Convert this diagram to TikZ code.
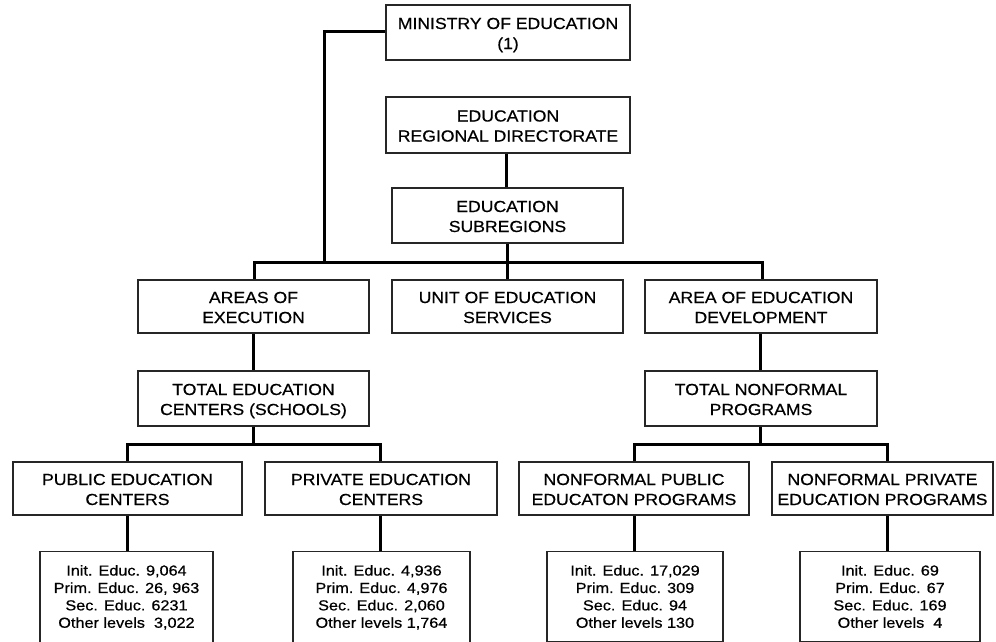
\documentclass[tikz,border=0pt]{standalone}
\usepackage{fontspec}
\setmainfont{Liberation Sans}
\newfontfamily\labfont[FakeStretch=1.1,FakeBold=0.6]{Liberation Sans}
\newfontfamily\datfont[FakeStretch=1.12,FakeBold=0.6]{Liberation Sans}
\begin{document}
\begin{tikzpicture}[x=1pt,y=-1pt,
  box/.style={draw=black!85,line width=1.1pt,rectangle,align=center,inner sep=0pt,
    text height=33pt,text depth=0pt,
    font=\labfont\fontsize{16}{20}\selectfont},
  databox/.style={draw=black!85,line width=1.1pt,rectangle,align=center,anchor=north,
    inner xsep=0pt,inner ysep=13.5pt,font=\datfont\fontsize{14.5}{17.4}\selectfont},
  conn/.style={line width=3pt,black}]
\useasboundingbox (0,0) rectangle (996,642);
\clip (0,0) rectangle (996,642);
% boxes
\node[box,minimum width=244pt,minimum height=55pt] (min) at (508,32.5) {MINISTRY OF EDUCATION\\(1)};
\node[box,minimum width=244pt,minimum height=56pt] (reg) at (508,125) {EDUCATION\\REGIONAL DIRECTORATE};
\node[box,minimum width=231pt,minimum height=55pt] (sub) at (507.5,215.5) {EDUCATION\\SUBREGIONS};
\node[box,minimum width=231pt,minimum height=53pt] (aex) at (253.5,306.5) {AREAS OF\\EXECUTION};
\node[box,minimum width=231pt,minimum height=53pt] (unit) at (507.5,306.5) {UNIT OF EDUCATION\\SERVICES};
\node[box,minimum width=232pt,minimum height=53pt] (adev) at (761,306.5) {AREA OF EDUCATION\\DEVELOPMENT};
\node[box,minimum width=231pt,minimum height=55pt] (tec) at (253.5,398.5) {TOTAL EDUCATION\\CENTERS (SCHOOLS)};
\node[box,minimum width=232pt,minimum height=55pt] (tnf) at (761,398.5) {TOTAL NONFORMAL\\PROGRAMS};
\node[box,minimum width=229pt,minimum height=53pt] (pub) at (127.5,488.5) {PUBLIC EDUCATION\\CENTERS};
\node[box,minimum width=232pt,minimum height=53pt] (priv) at (381,488.5) {PRIVATE EDUCATION\\CENTERS};
\node[box,minimum width=230pt,minimum height=53pt] (nfpub) at (634,488.5) {NONFORMAL PUBLIC\\EDUCATON PROGRAMS};
\node[box,minimum width=221pt,minimum height=53pt] (nfpriv) at (882.5,488.5) {NONFORMAL PRIVATE\\EDUCATION PROGRAMS};
% data boxes
\node[databox,minimum width=173pt] (d1) at (126.5,551) {Init. Educ. 9,064\\Prim. Educ. 26, 963\\Sec. Educ. 6231\\Other levels\ \ 3,022};
\node[databox,minimum width=177pt] (d2) at (381.5,551) {Init. Educ. 4,936\\Prim. Educ. 4,976\\Sec. Educ. 2,060\\Other levels 1,764};
\node[databox,minimum width=176pt] (d3) at (635,551) {Init. Educ. 17,029\\Prim. Educ. 309\\Sec. Educ. 94\\Other levels 130};
\node[databox,minimum width=180pt] (d4) at (890,551) {Init. Educ. 69\\Prim. Educ. 67\\Sec. Educ. 169\\Other levels\ \ 4};
% junction coordinates
\coordinate (mcorner) at (324,32);
\coordinate (busL) at (254,262);
\coordinate (busM) at (324,262);
\coordinate (busC) at (507,262);
\coordinate (busR) at (762,262);
\coordinate (tecbus) at (253,444);
\coordinate (tecL) at (127,444);
\coordinate (tecR) at (380,444);
\coordinate (tnfbus) at (760,444);
\coordinate (tnfL) at (634,444);
\coordinate (tnfR) at (887,444);
% connectors
\draw[conn] (min.west |- mcorner) -- (mcorner) -- (busM);
\draw[conn] (reg.south -| 506,0) -- (sub.north -| 506,0);
\draw[conn] (sub.south -| busC) -- (unit.north -| busC);
\draw[conn] (aex.north -| busL) -- (busL) -- (busR) -- (adev.north -| busR);
\draw[conn] (aex.south -| tecbus) -- (tec.north -| tecbus);
\draw[conn] (tec.south -| tecbus) -- (tecbus);
\draw[conn] (pub.north -| tecL) -- (tecL) -- (tecR) -- (priv.north -| tecR);
\draw[conn] (adev.south -| tnfbus) -- (tnf.north -| tnfbus);
\draw[conn] (tnf.south -| tnfbus) -- (tnfbus);
\draw[conn] (nfpub.north -| tnfL) -- (tnfL) -- (tnfR) -- (nfpriv.north -| tnfR);
\draw[conn] (pub.south -| tecL) -- (d1.north -| tecL);
\draw[conn] (priv.south -| tecR) -- (d2.north -| tecR);
\draw[conn] (nfpub.south -| tnfL) -- (d3.north -| tnfL);
\draw[conn] (nfpriv.south -| tnfR) -- (d4.north -| tnfR);
\end{tikzpicture}
\end{document}
